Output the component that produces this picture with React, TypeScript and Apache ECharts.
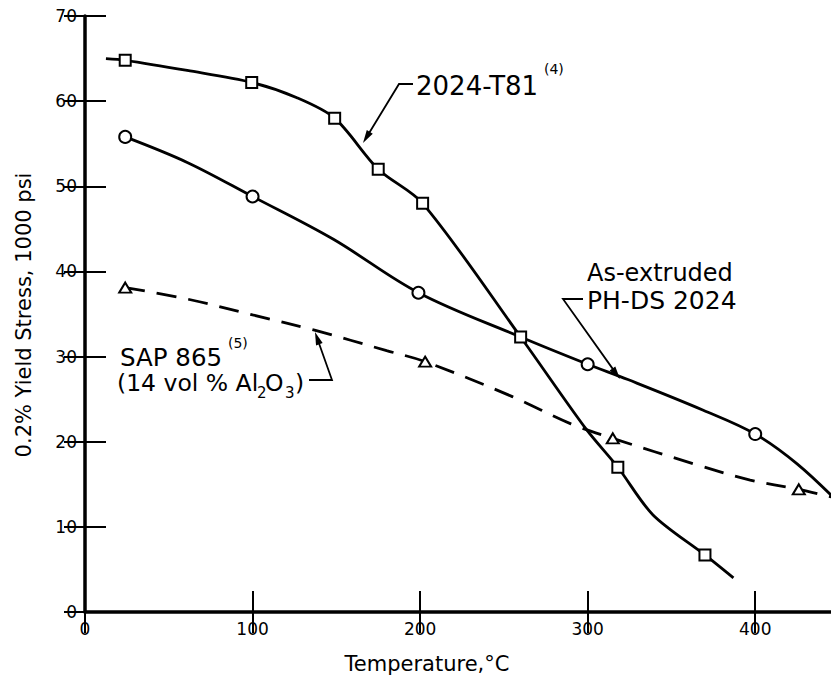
import React, { useEffect, useRef } from "react";
import * as echarts from "echarts";

// ---- data ----
const xTickValues = [0, 100, 200, 300, 400];
const yTickValues = [0, 10, 20, 30, 40, 50, 60, 70];

// 2024-T81 (squares)
const t81Markers = [
  [24, 64.8], [99.5, 62.2], [149, 58.0], [175, 52.0], [201.5, 48.0], [260, 32.3], [318, 17.0], [370, 6.7],
];
const t81Curve = [
  [12.5, 65.0], [24, 64.8], [61, 63.6], [99.5, 62.2], [126.5, 60.4], [149, 58.0], [175, 52.0], [201.5, 48.0],
  [260, 32.3], [299, 21.5], [318, 17.0], [339, 11.4], [370, 6.7], [387, 4.0],
];

// As-extruded PH-DS 2024 (circles)
const phdsMarkers = [[24, 55.8], [100, 48.8], [199, 37.5], [300, 29.1], [400, 20.9]];
const phdsCurve = [
  [24, 55.8], [61, 52.8], [100, 48.8], [148, 43.8], [199, 37.5], [260, 32.3], [300, 29.1],
  [324, 27.3], [369, 23.7], [400, 20.9], [425, 17.4], [450, 12.8],
];

// SAP 865 (triangles, dashed)
const sapMarkers = [[24, 38.1], [203, 29.4], [315, 20.4], [426, 14.4]];
const sapCurve = [
  [24, 38.1], [60, 36.8], [100, 34.9], [137, 33.1], [180, 30.7], [203, 29.4], [255, 25.3],
  [290, 22.1], [315, 20.4], [365, 17.3], [397, 15.5], [426, 14.4], [450, 13.3],
];

const FONT = "DejaVu Sans";

function arrow(pts: number[][], head = 13, half = 3.5) {
  const n = pts.length;
  const [tx, ty] = pts[n - 1];
  const [px, py] = pts[n - 2];
  const dx = tx - px, dy = ty - py;
  const L = Math.hypot(dx, dy);
  const ux = dx / L, uy = dy / L;
  const bx = tx - ux * head, by = ty - uy * head;
  const nx = -uy, ny = ux;
  return [
    {
      type: "polyline",
      shape: { points: [...pts.slice(0, n - 1), [bx + ux * 3, by + uy * 3]] },
      style: { stroke: "#000", lineWidth: 1.8, fill: null },
      z: 10,
    },
    {
      type: "polygon",
      shape: { points: [[tx, ty], [bx + nx * half, by + ny * half], [bx - nx * half, by - ny * half]] },
      style: { fill: "#000" },
      z: 10,
    },
  ];
}

function txt(text: string, x: number, y: number, size: number, extra: any = {}) {
  return {
    type: "text",
    x,
    y,
    z: 10,
    ...extra,
    style: {
      text,
      fontFamily: FONT,
      fontSize: size,
      fill: "#000",
      align: "left",
      verticalAlign: "middle",
      ...(extra.style || {}),
    },
  };
}

export default function App() {
  const ref = useRef<HTMLDivElement>(null);

  useEffect(() => {
    if (!ref.current) return;
    const chart = echarts.init(ref.current, null, { renderer: "svg" });

    const axisCommon = {
      type: "value",
      splitLine: { show: false },
      axisTick: { show: true, inside: true, length: 21, lineStyle: { color: "#000", width: 2 } },
    };

    const markerStyle = { color: "#fff", borderColor: "#000", borderWidth: 2, opacity: 1 };

    const option: any = {
      animation: false,
      backgroundColor: "#fff",
      grid: { left: 85, top: 16, width: 754, height: 596, outerBoundsMode: "none", containLabel: false },
      xAxis: [
        {
          ...axisCommon,
          min: 0, max: 450, interval: 100,
          position: "bottom",
          axisLine: { show: true, lineStyle: { color: "#000", width: 3.5 } },
          axisLabel: {
            color: "#000", fontSize: 17, fontFamily: FONT, margin: 8,
            formatter: (v: number) => (xTickValues.includes(v) ? String(v) : ""),
          },
        },
        {
          ...axisCommon,
          min: 0, max: 450, interval: 100,
          position: "top",
          axisLine: { show: true, lineStyle: { color: "#000", width: 2 } },
          axisLabel: { show: false },
        },
      ],
      yAxis: [
        {
          ...axisCommon,
          min: 0, max: 70, interval: 10,
          position: "left",
          axisLine: { show: true, lineStyle: { color: "#000", width: 3.5 } },
          axisLabel: {
            color: "#000", fontSize: 17, fontFamily: FONT, margin: 8,
            formatter: (v: number) => (yTickValues.includes(v) ? String(v) : ""),
          },
        },
        {
          ...axisCommon,
          min: 0, max: 70, interval: 10,
          position: "right",
          axisLine: { show: true, lineStyle: { color: "#000", width: 2 } },
          axisLabel: { show: false },
        },
      ],
      series: [
        {
          name: "2024-T81 curve", type: "line", data: t81Curve, showSymbol: false, smooth: 0.3,
          lineStyle: { color: "#000", width: 2.8 }, z: 2,
        },
        {
          name: "PH-DS curve", type: "line", data: phdsCurve, showSymbol: false, smooth: 0.35,
          lineStyle: { color: "#000", width: 2.8 }, z: 2,
        },
        {
          name: "SAP curve", type: "line", data: sapCurve, showSymbol: false, smooth: 0.35,
          lineStyle: { color: "#000", width: 2.8, type: [20, 12] }, z: 2,
        },
        {
          name: "2024-T81", type: "scatter", data: t81Markers, symbol: "rect", symbolSize: 11,
          itemStyle: markerStyle, z: 5,
        },
        {
          name: "As-extruded PH-DS 2024", type: "scatter", data: phdsMarkers, symbol: "circle", symbolSize: 12,
          itemStyle: markerStyle, z: 5,
        },
        {
          name: "SAP 865", type: "scatter", data: sapMarkers, symbol: "triangle", symbolSize: [12, 10],
          itemStyle: markerStyle, z: 5,
        },
      ],
      graphic: [
        txt("Temperature,°C", 427, 664, 21, { style: { align: "center" } }),
        txt("0.2% Yield Stress, 1000 psi", 24, 315, 21, { rotation: Math.PI / 2, style: { align: "center" } }),
        txt("2024-T81", 416, 86, 26),
        txt("(4)", 544, 69, 14),
        ...arrow([[413, 84], [399, 84], [363, 143]]),
        txt("As-extruded", 587, 273, 24),
        txt("PH-DS 2024", 587, 300, 25),
        ...arrow([[583, 299], [563, 299], [620, 379]]),
        txt("SAP 865", 120, 357, 24.5),
        txt("(5)", 228, 343, 14),
        txt("(14 vol % Al", 117, 383, 23.5),
        txt("2", 257, 393, 15),
        txt("O", 265, 383, 23.5),
        txt("3", 285, 393, 15),
        txt(")", 295, 383, 23.5),
        ...arrow([[309, 380], [332, 380], [315, 332]]),
      ],
    };

    chart.setOption(option);
    return () => chart.dispose();
  }, []);

  return (
    <div
      ref={ref}
      style={{ position: "absolute", left: 0, top: 0, width: 831, height: 685, background: "#fff" }}
    />
  );
}
